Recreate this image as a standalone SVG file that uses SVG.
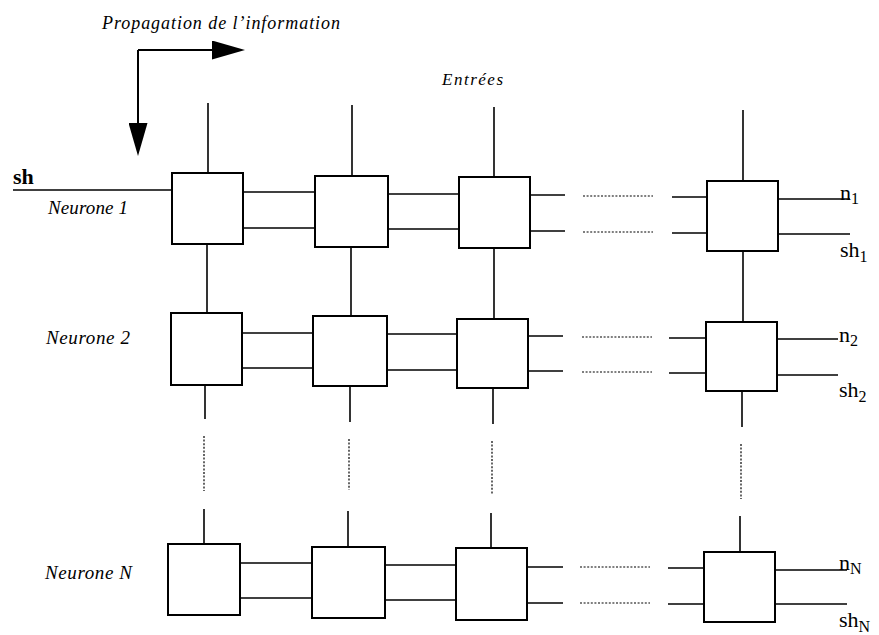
<svg xmlns="http://www.w3.org/2000/svg" width="879" height="635" viewBox="0 0 879 635">
<style>
  .box { fill: #fff; stroke: #000; stroke-width: 2; }
  .ln { stroke: #000; stroke-width: 1.6; fill: none; }
  .dot { stroke: #000; stroke-width: 1.2; stroke-dasharray: 2 1.6; fill: none; }
  .arr { stroke: #000; stroke-width: 2; fill: none; }
  .it { font-family: "Liberation Serif", "Times New Roman", serif; font-style: italic; fill: #000; }
  .lab { font-family: "Liberation Serif", "Times New Roman", serif; fill: #000; font-size: 22px; }
  .sub { font-size: 16px; }
</style>
<defs>
  <marker id="ah" viewBox="0 0 33 19" refX="0" refY="9.5" markerWidth="33" markerHeight="19" markerUnits="userSpaceOnUse" orient="auto">
    <path d="M0,0 L33,9.5 L0,19 Z" fill="#000"/>
  </marker>
</defs>
<rect width="879" height="635" fill="#fff"/>

<g id="labels">
  <text class="it" x="102" y="29" font-size="18" textLength="238" lengthAdjust="spacing">Propagation de l’information</text>
  <text class="it" x="442" y="85" font-size="17" textLength="61" lengthAdjust="spacing">Entrées</text>
  <text class="it" x="48" y="214" font-size="19" textLength="80" lengthAdjust="spacing">Neurone 1</text>
  <text class="it" x="46" y="344" font-size="19" textLength="84" lengthAdjust="spacing">Neurone 2</text>
  <text class="it" x="45" y="579" font-size="19" textLength="87" lengthAdjust="spacing">Neurone N</text>
  <text class="lab" x="13" y="184" font-weight="bold" font-size="22">sh</text>
  <text class="lab" x="840" y="200">n<tspan class="sub" dy="4">1</tspan></text>
  <text class="lab" x="840" y="257">sh<tspan class="sub" dy="5">1</tspan></text>
  <text class="lab" x="839" y="342">n<tspan class="sub" dy="4">2</tspan></text>
  <text class="lab" x="839" y="397">sh<tspan class="sub" dy="5">2</tspan></text>
  <text class="lab" x="839" y="570">n<tspan class="sub" dy="4">N</tspan></text>
  <text class="lab" x="839" y="627">sh<tspan class="sub" dy="5">N</tspan></text>
</g>

<g id="connectors">
  <!-- propagation arrows -->
  <path class="arr" d="M138,50 H212" marker-end="url(#ah)"/>
  <path class="arr" d="M138,50 V123" marker-end="url(#ah)"/>

  <!-- input sh line -->
  <line class="ln" x1="13" y1="190" x2="172" y2="190"/>

  <!-- column inputs (top) -->
  <line class="ln" x1="208" y1="103" x2="208" y2="173"/>
  <line class="ln" x1="352" y1="105" x2="352" y2="176"/>
  <line class="ln" x1="494" y1="107" x2="494" y2="177"/>
  <line class="ln" x1="743" y1="110" x2="743" y2="181"/>

  <!-- row1 to row2 verticals -->
  <line class="ln" x1="207" y1="244" x2="207" y2="313"/>
  <line class="ln" x1="351" y1="247" x2="351" y2="316"/>
  <line class="ln" x1="494" y1="248" x2="494" y2="319"/>
  <line class="ln" x1="743" y1="251" x2="743" y2="322"/>

  <!-- row2 below stubs -->
  <line class="ln" x1="205" y1="385" x2="205" y2="419"/>
  <line class="ln" x1="350" y1="386" x2="350" y2="422"/>
  <line class="ln" x1="493" y1="388" x2="493" y2="424"/>
  <line class="ln" x1="742" y1="391" x2="742" y2="427"/>

  <!-- vertical dotted -->
  <line class="dot" x1="204" y1="436" x2="204" y2="491"/>
  <line class="dot" x1="349" y1="439" x2="349" y2="490"/>
  <line class="dot" x1="492" y1="441" x2="492" y2="495"/>
  <line class="dot" x1="741" y1="444" x2="741" y2="499"/>

  <!-- row N top stubs -->
  <line class="ln" x1="204" y1="509" x2="204" y2="544"/>
  <line class="ln" x1="348" y1="511" x2="348" y2="547"/>
  <line class="ln" x1="491" y1="513" x2="491" y2="548"/>
  <line class="ln" x1="740" y1="516" x2="740" y2="552"/>

  <!-- row 1 horizontals -->
  <line class="ln" x1="243" y1="192" x2="315" y2="192"/>
  <line class="ln" x1="243" y1="228" x2="315" y2="228"/>
  <line class="ln" x1="388" y1="194" x2="459" y2="194"/>
  <line class="ln" x1="388" y1="229" x2="459" y2="229"/>
  <line class="ln" x1="530" y1="195" x2="565" y2="195"/>
  <line class="ln" x1="530" y1="231" x2="565" y2="231"/>
  <line class="dot" x1="583" y1="196" x2="653" y2="196"/>
  <line class="dot" x1="583" y1="232" x2="653" y2="232"/>
  <line class="ln" x1="672" y1="197" x2="707" y2="197"/>
  <line class="ln" x1="672" y1="233" x2="707" y2="233"/>
  <line class="ln" x1="778" y1="199" x2="850" y2="199"/>
  <line class="ln" x1="778" y1="234" x2="850" y2="234"/>

  <!-- row 2 horizontals -->
  <line class="ln" x1="242" y1="333" x2="313" y2="333"/>
  <line class="ln" x1="242" y1="368" x2="313" y2="368"/>
  <line class="ln" x1="387" y1="334" x2="457" y2="334"/>
  <line class="ln" x1="387" y1="370" x2="457" y2="370"/>
  <line class="ln" x1="528" y1="336" x2="563" y2="336"/>
  <line class="ln" x1="528" y1="371" x2="563" y2="371"/>
  <line class="dot" x1="582" y1="337" x2="652" y2="337"/>
  <line class="dot" x1="582" y1="372" x2="652" y2="372"/>
  <line class="ln" x1="669" y1="338" x2="706" y2="338"/>
  <line class="ln" x1="669" y1="373" x2="706" y2="373"/>
  <line class="ln" x1="777" y1="339" x2="838" y2="339"/>
  <line class="ln" x1="777" y1="375" x2="838" y2="375"/>

  <!-- row N horizontals -->
  <line class="ln" x1="240" y1="563" x2="312" y2="563"/>
  <line class="ln" x1="240" y1="598" x2="312" y2="598"/>
  <line class="ln" x1="385" y1="565" x2="456" y2="565"/>
  <line class="ln" x1="385" y1="600" x2="456" y2="600"/>
  <line class="ln" x1="527" y1="567" x2="563" y2="567"/>
  <line class="ln" x1="527" y1="603" x2="563" y2="603"/>
  <line class="dot" x1="580" y1="567" x2="650" y2="567"/>
  <line class="dot" x1="580" y1="603" x2="650" y2="603"/>
  <line class="ln" x1="668" y1="568" x2="704" y2="568"/>
  <line class="ln" x1="668" y1="604" x2="704" y2="604"/>
  <line class="ln" x1="775" y1="570" x2="847" y2="570"/>
  <line class="ln" x1="775" y1="604" x2="847" y2="604"/>
</g>

<g id="n11"><rect class="box" x="172" y="173" width="71" height="71"/></g>
<g id="n12"><rect class="box" x="315" y="176" width="73" height="71"/></g>
<g id="n13"><rect class="box" x="459" y="177" width="71" height="71"/></g>
<g id="n14"><rect class="box" x="707" y="181" width="71" height="70"/></g>

<g id="n21"><rect class="box" x="171" y="313" width="71" height="72"/></g>
<g id="n22"><rect class="box" x="313" y="316" width="74" height="70"/></g>
<g id="n23"><rect class="box" x="457" y="319" width="71" height="69"/></g>
<g id="n24"><rect class="box" x="706" y="322" width="71" height="69"/></g>

<g id="nN1"><rect class="box" x="168" y="544" width="72" height="71"/></g>
<g id="nN2"><rect class="box" x="312" y="547" width="73" height="71"/></g>
<g id="nN3"><rect class="box" x="456" y="548" width="71" height="72"/></g>
<g id="nN4"><rect class="box" x="704" y="552" width="71" height="70"/></g>
</svg>
